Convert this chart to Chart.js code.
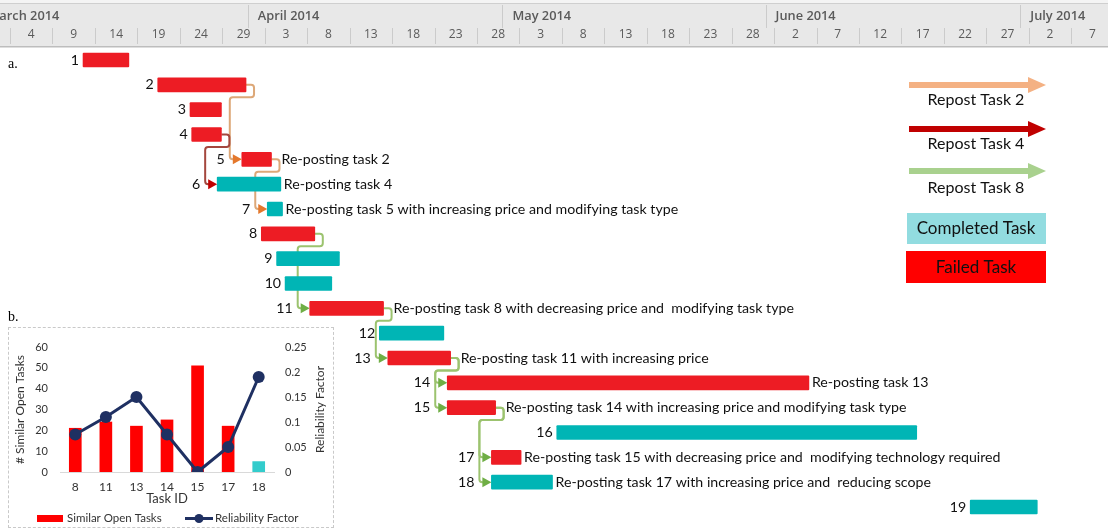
<!DOCTYPE html>
<html>
<head>
<meta charset="utf-8">
<script src="https://cdn.jsdelivr.net/npm/chart.js@4.4.0/dist/chart.umd.min.js"></script>
<style>
  html, body { margin: 0; padding: 0; background: #fff; }
  #page { position: relative; width: 1108px; height: 528px; overflow: hidden; }
  #ganttChart { position: absolute; left: 0; top: 0; }
  #insetWrap { position: absolute; left: 8px; top: 327px; width: 324px; height: 199px; border: 1px dashed #c9c9c9; background: #fff; }
  .tag { position: absolute; font-family: 'Liberation Serif', serif; font-size: 14px; color: #000; }
</style>
</head>
<body>
<div id="page">
  <canvas id="ganttChart" width="1108" height="528"></canvas>
  <div class="tag" style="left:8px; top:56px;">a.</div>
  <div class="tag" style="left:8px; top:309px;">b.</div>
  <div id="insetWrap"><canvas id="insetChart" width="324" height="199"></canvas></div>
</div>
<script>
// timeline values are days counted from 1 March 2014
const taskIds = [1, 2, 3, 4, 5, 6, 7, 8, 9, 10, 11, 12, 13, 14, 15, 16, 17, 18, 19];
const taskStart = [11.6, 20.4, 24.2, 24.4, 30.3, 27.4, 33.3, 32.6, 34.4, 35.4, 38.3, 46.5, 47.5, 54.5, 54.5, 67.4, 59.7, 59.7, 116.1];
const taskEnd = [17.0, 30.8, 27.9, 27.9, 33.8, 34.9, 35.1, 38.9, 41.8, 40.9, 47.0, 54.1, 54.9, 97.1, 60.2, 109.8, 63.2, 66.9, 124.0];
const taskState = ['failed', 'failed', 'failed', 'failed', 'failed', 'completed', 'completed', 'failed', 'completed', 'completed',
  'failed', 'completed', 'failed', 'failed', 'failed', 'completed', 'failed', 'completed', 'completed'];
const taskNotes = {
  5: 'Re-posting task 2',
  6: 'Re-posting task 4',
  7: 'Re-posting task 5 with increasing price and modifying task type',
  11: 'Re-posting task 8 with decreasing price and  modifying task type',
  13: 'Re-posting task 11 with increasing price',
  14: 'Re-posting task 13',
  15: 'Re-posting task 14 with increasing price and modifying task type',
  17: 'Re-posting task 15 with decreasing price and  modifying technology required',
  18: 'Re-posting task 17 with increasing price and  reducing scope'
};
const linkFrom = [2, 4, 5, 8, 11, 13, 13, 15, 15];
const linkTo = [5, 6, 7, 11, 13, 14, 15, 17, 18];
const linkChain = ['task2', 'task4', 'task2', 'task8', 'task8', 'task8', 'task8', 'task8', 'task8'];

const dayLabels = ['4', '9', '14', '19', '24', '29', '3', '8', '13', '18', '23', '28', '3', '8', '13', '18', '23', '28',
  '2', '7', '12', '17', '22', '27', '2', '7'];
const monthLabels = ['March 2014', 'April 2014', 'May 2014', 'June 2014', 'July 2014'];
const monthStarts = [0, 31, 61, 92, 122];

const legendArrows = ['Repost Task 2', 'Repost Task 4', 'Repost Task 8'];

// inset (b.)
const insetIds = ['8', '11', '13', '14', '15', '17', '18'];
const similarOpenTasks = [21, 24, 22, 25, 51, 22, 5];
const reliabilityFactor = [0.075, 0.11, 0.15, 0.075, 0, 0.05, 0.19];

const FONT = 'Lato, "Open Sans", sans-serif';
const stateColor = { failed: '#ED1C24', completed: '#00B5B5' };
const chainLine = { task2: '#DDA878', task4: '#A4473E', task8: '#9CC36F' };
const chainHead = { task2: '#E4782C', task4: '#C00000', task8: '#6FAE45' };

const ganttExtras = {
  id: 'ganttExtras',
  beforeDraw(chart) {
    const { ctx } = chart;
    const xs = chart.scales.x;
    ctx.save();
    ctx.fillStyle = '#f4f4f4';
    ctx.fillRect(0, 0, chart.width, 3);
    ctx.fillStyle = '#e8e8e8';
    ctx.fillRect(0, 4, chart.width, 43);
    ctx.fillStyle = '#cfcfcf';
    ctx.fillRect(0, 3, chart.width, 1);
    ctx.fillStyle = '#bdbdbd';
    ctx.fillRect(0, 46, chart.width, 1.5);
    // day cell separators
    ctx.strokeStyle = '#cbcbcb';
    ctx.lineWidth = 1;
    dayLabels.forEach((_, i) => {
      const px = Math.round(xs.getPixelForValue(3 + 5 * i)) + 0.5;
      ctx.beginPath();
      ctx.moveTo(px, 28);
      ctx.lineTo(px, 44);
      ctx.stroke();
    });
    // months
    ctx.beginPath();
    ctx.rect(0, 0, chart.width, 47);
    ctx.clip();
    ctx.font = '600 12.8px "Open Sans", sans-serif';
    ctx.fillStyle = '#5a5a5a';
    ctx.textBaseline = 'middle';
    monthLabels.forEach((m, i) => {
      const px = xs.getPixelForValue(monthStarts[i]);
      ctx.beginPath();
      ctx.moveTo(Math.round(px) + 0.5, 5);
      ctx.lineTo(Math.round(px) + 0.5, 28);
      ctx.stroke();
      ctx.fillText(m, px < 0 ? px + 3 : px + 10, 16);
    });
    ctx.restore();
  },
  beforeDatasetsDraw(chart) {
    const { ctx } = chart;
    const xs = chart.scales.x, ys = chart.scales.y;
    const half = (ys.getPixelForValue(1) - ys.getPixelForValue(0)) / 2;
    ctx.save();
    ctx.lineWidth = 2;
    linkFrom.forEach((f, k) => {
      const a = f - 1, b = linkTo[k] - 1;
      const x1 = xs.getPixelForValue(taskEnd[a]), y1 = ys.getPixelForValue(a);
      const x2 = xs.getPixelForValue(taskStart[b]), y2 = ys.getPixelForValue(b);
      const jx = x1 + 8, my = y1 + half, vx = x2 - 12, r = 3;
      ctx.strokeStyle = chainLine[linkChain[k]];
      ctx.beginPath();
      ctx.moveTo(x1, y1);
      ctx.lineTo(jx - r, y1);
      ctx.quadraticCurveTo(jx, y1, jx, y1 + r);
      ctx.lineTo(jx, my - r);
      ctx.quadraticCurveTo(jx, my, jx - r, my);
      ctx.lineTo(vx + r, my);
      ctx.quadraticCurveTo(vx, my, vx, my + r);
      ctx.lineTo(vx, y2 - r);
      ctx.quadraticCurveTo(vx, y2, vx + r, y2);
      ctx.lineTo(x2 - 6, y2);
      ctx.stroke();
    });
    ctx.restore();
  },
  afterDatasetsDraw(chart) {
    const { ctx } = chart;
    const xs = chart.scales.x, ys = chart.scales.y;
    ctx.save();
    // arrow heads
    linkTo.forEach((t, k) => {
      const b = t - 1;
      const x2 = xs.getPixelForValue(taskStart[b]), y2 = ys.getPixelForValue(b);
      ctx.fillStyle = chainHead[linkChain[k]];
      ctx.beginPath();
      ctx.moveTo(x2 - 9, y2 - 5);
      ctx.lineTo(x2, y2);
      ctx.lineTo(x2 - 9, y2 + 5);
      ctx.closePath();
      ctx.fill();
    });
    // task ids and notes
    ctx.font = '14.2px ' + FONT;
    ctx.fillStyle = '#111';
    ctx.textBaseline = 'middle';
    taskIds.forEach((id, i) => {
      const y = ys.getPixelForValue(i);
      const gap = linkTo.includes(id) ? 17 : 4;
      ctx.textAlign = 'right';
      ctx.fillText(String(id), xs.getPixelForValue(taskStart[i]) - gap, y);
      if (taskNotes[id]) {
        const off = linkFrom.includes(id) ? 10 : 3;
        ctx.textAlign = 'left';
        ctx.fillText(taskNotes[id], xs.getPixelForValue(taskEnd[i]) + off, y);
      }
    });
    // legend on the right
    const arrowY = [85, 129, 171];
    const textY = [100, 144, 188];
    const arrowCol = ['#F4B183', '#C00000', '#A9D18E'];
    ctx.font = '16px ' + FONT;
    ctx.textAlign = 'center';
    legendArrows.forEach((lbl, i) => {
      ctx.fillStyle = arrowCol[i];
      ctx.fillRect(909, arrowY[i] - 3, 121, 6);
      ctx.beginPath();
      ctx.moveTo(1028, arrowY[i] - 8);
      ctx.lineTo(1046, arrowY[i]);
      ctx.lineTo(1028, arrowY[i] + 8);
      ctx.closePath();
      ctx.fill();
      ctx.fillStyle = '#111';
      ctx.fillText(lbl, 976, textY[i]);
    });
    ctx.fillStyle = '#92DCE0';
    ctx.fillRect(907, 213, 139, 31);
    ctx.fillStyle = '#FF0000';
    ctx.fillRect(906, 251, 140, 32);
    ctx.fillStyle = '#111';
    ctx.font = '17px ' + FONT;
    ctx.fillText('Completed Task', 976, 229);
    ctx.fillText('Failed Task', 976, 268);
    ctx.restore();
  }
};

new Chart(document.getElementById('ganttChart'), {
  type: 'bar',
  data: {
    labels: taskIds.map(String),
    datasets: [{
      data: taskIds.map((_, i) => [taskStart[i], taskEnd[i]]),
      backgroundColor: taskState.map(s => stateColor[s]),
      borderWidth: 0,
      borderSkipped: false,
      borderRadius: 1,
      barThickness: 14
    }]
  },
  options: {
    indexAxis: 'y',
    responsive: false,
    animation: false,
    layout: { padding: { left: 0, right: 0, top: 0, bottom: 8.6 } },
    plugins: { legend: { display: false }, tooltip: { enabled: false } },
    scales: {
      x: {
        type: 'linear',
        position: 'top',
        min: 1.82,
        max: 132.33,
        grid: { display: false, drawTicks: false },
        border: { display: false },
        afterBuildTicks: (s) => { s.ticks = dayLabels.map((_, i) => ({ value: 3 + 5 * i + 2.5 })); },
        afterFit: (s) => { s.height = 47.6; },
        ticks: {
          autoSkip: false, maxRotation: 0, minRotation: 0, padding: 6,
          color: '#5a5a5a', font: { family: '"Open Sans", sans-serif', size: 12 },
          callback: (v, i) => dayLabels[i]
        }
      },
      y: { type: 'category', display: false, offset: true }
    }
  },
  plugins: [ganttExtras]
});

const insetExtras = {
  id: 'insetExtras',
  afterDraw(chart) {
    const { ctx } = chart;
    const ds = chart.data.datasets;
    ctx.save();
    ctx.font = '11.5px ' + FONT;
    ctx.fillStyle = '#333';
    ctx.textBaseline = 'middle';
    // right axis title, reading upwards
    ctx.save();
    ctx.translate(311, (chart.chartArea.top + chart.chartArea.bottom) / 2);
    ctx.rotate(-Math.PI / 2);
    ctx.textAlign = 'center';
    ctx.font = '12px ' + FONT;
    ctx.fillText('Reliability Factor', 0, 0);
    ctx.restore();
    // legend
    const ly = 190.5;
    ctx.fillStyle = '#FF0000';
    ctx.fillRect(28, ly - 3.5, 26, 7);
    ctx.fillStyle = '#333';
    ctx.fillText(ds[0].label, 58, ly);
    ctx.strokeStyle = ds[1].borderColor;
    ctx.lineWidth = 3;
    ctx.beginPath();
    ctx.moveTo(176, ly);
    ctx.lineTo(204, ly);
    ctx.stroke();
    ctx.fillStyle = ds[1].borderColor;
    ctx.beginPath();
    ctx.arc(190, ly, 4.5, 0, Math.PI * 2);
    ctx.fill();
    ctx.fillStyle = '#333';
    ctx.fillText(ds[1].label, 206, ly);
    ctx.restore();
  }
};

new Chart(document.getElementById('insetChart'), {
  data: {
    labels: insetIds,
    datasets: [
      {
        type: 'bar',
        label: 'Similar Open Tasks',
        data: similarOpenTasks,
        backgroundColor: insetIds.map(id => taskState[Number(id) - 1] === 'failed' ? '#FF0000' : '#33CCCC'),
        barThickness: 12,
        yAxisID: 'y',
        order: 1
      },
      {
        type: 'line',
        label: 'Reliability Factor',
        data: reliabilityFactor,
        borderColor: '#1F3062',
        backgroundColor: '#1F3062',
        borderWidth: 3,
        pointRadius: 6,
        pointBackgroundColor: '#1F3062',
        pointBorderWidth: 0,
        yAxisID: 'y1',
        order: 0
      }
    ]
  },
  options: {
    responsive: false,
    animation: false,
    layout: { padding: { left: 0, right: 0, top: 19, bottom: 19 } },
    plugins: { legend: { display: false }, tooltip: { enabled: false } },
    scales: {
      x: {
        grid: { display: false, drawTicks: false },
        border: { display: true, color: '#d9d9d9' },
        ticks: { padding: 8, color: '#333', font: { family: FONT, size: 12 } },
        title: { display: true, text: 'Task ID', color: '#333', padding: { top: 0, bottom: 1 }, font: { family: FONT, size: 13 } },
        afterFit: (s) => { s.height = 36; }
      },
      y: {
        position: 'left',
        min: 0, max: 60,
        grid: { display: false, drawTicks: false },
        border: { display: false },
        ticks: { stepSize: 10, padding: 12, color: '#333', font: { family: FONT, size: 11 } },
        title: { display: true, text: '# Similar Open Tasks', color: '#333', padding: { top: 4, bottom: 0 }, font: { family: FONT, size: 12 } },
        afterFit: (s) => { s.width = 51; }
      },
      y1: {
        position: 'right',
        min: 0, max: 0.25,
        grid: { display: false, drawTicks: false },
        border: { display: false },
        ticks: { stepSize: 0.05, padding: 11, color: '#333', font: { family: FONT, size: 11 }, callback: (v) => String(+v.toFixed(2)) },
        afterFit: (s) => { s.width = 59; }
      }
    }
  },
  plugins: [insetExtras]
});
</script>
</body>
</html>
